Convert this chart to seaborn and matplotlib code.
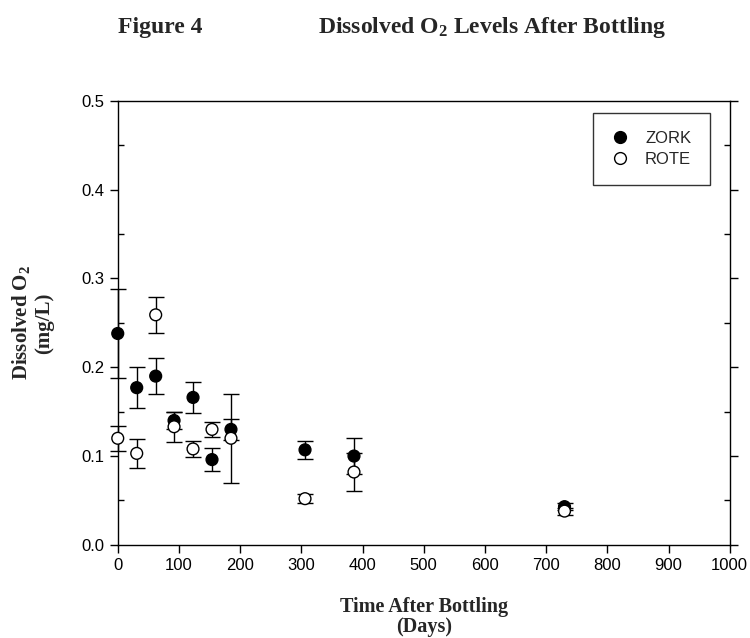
import matplotlib
matplotlib.use("Agg")
import matplotlib.pyplot as plt
from matplotlib.lines import Line2D
from matplotlib.ticker import MultipleLocator
import seaborn as sns
import pandas as pd

days = [0, 31, 62, 92, 123, 154, 185, 306, 386, 730]
zork = [0.238, 0.177, 0.190, 0.140, 0.166, 0.096, 0.130, 0.107, 0.100, 0.043]
zork_err = [0.050, 0.023, 0.020, 0.010, 0.017, 0.0125, 0.012, 0.010, 0.020, 0.004]
rote = [0.120, 0.103, 0.259, 0.133, 0.108, 0.130, 0.120, 0.052, 0.082, 0.038]
rote_err = [0.014, 0.016, 0.020, 0.017, 0.009, 0.008, 0.050, 0.005, 0.021, 0.004]
series = ["ZORK", "ROTE"]
x_ticks = [0, 100, 200, 300, 400, 500, 600, 700, 800, 900, 1000]
y_ticks = [0.0, 0.1, 0.2, 0.3, 0.4, 0.5]

sns.set_theme(style="ticks")
plt.rcParams["font.family"] = ["Liberation Sans", "DejaVu Sans"]
plt.rcParams["mathtext.fontset"] = "custom"
plt.rcParams["mathtext.rm"] = "Liberation Serif"
plt.rcParams["mathtext.default"] = "regular"

df = pd.DataFrame({
    "day": days + days,
    "o2": zork + rote,
    "err": zork_err + rote_err,
    "series": [series[0]] * len(days) + [series[1]] * len(days),
})

fig = plt.figure(figsize=(7.5, 6.38), dpi=100)
ax = fig.add_axes([0.157, 0.146, 0.816, 0.696])

for s in series:
    sub = df[df["series"] == s]
    eb = ax.errorbar(sub["day"], sub["o2"], yerr=sub["err"], fmt="none",
                     ecolor="black", elinewidth=1.0, capsize=6, capthick=1.0,
                     zorder=2)
    for art in eb.lines[1]:
        art.set_clip_on(False)
    for art in eb.lines[2]:
        art.set_clip_on(False)

sns.scatterplot(data=df, x="day", y="o2", hue="series", hue_order=series,
                palette={"ZORK": "black", "ROTE": "white"}, edgecolor="black",
                linewidth=1.0, s=72, ax=ax, legend=False, zorder=3,
                clip_on=False)

ax.set_xlim(0, 1000)
ax.set_ylim(0, 0.5)
ax.set_xticks(x_ticks)
ax.set_xticklabels([str(t) for t in x_ticks])
ax.set_yticks(y_ticks)
ax.set_yticklabels([f"{t:.1f}" for t in y_ticks])
ax.yaxis.set_minor_locator(MultipleLocator(0.05))
ax.tick_params(axis="both", which="major", direction="out", length=6, width=1,
               color="black", labelsize=12, labelcolor="black")
ax.tick_params(axis="y", which="major", right=True, labelright=False)
ax.tick_params(axis="y", which="minor", direction="in", length=4, width=1,
               left=True, right=True, color="black")
for sp in ax.spines.values():
    sp.set_visible(True)
    sp.set_color("black")
    sp.set_linewidth(1.0)

ax.set_xlabel("Time After Bottling\n(Days)", family="Liberation Serif",
              fontweight="bold", fontsize=14.5, labelpad=17, linespacing=1.0)
ax.set_ylabel("Dissolved O$_2$\n(mg/L)", family="Liberation Serif",
              fontweight="bold", fontsize=15, labelpad=20, linespacing=1.1)

handles = [
    Line2D([], [], marker="o", linestyle="none", markerfacecolor="black",
           markeredgecolor="black", markersize=8.5, label="ZORK"),
    Line2D([], [], marker="o", linestyle="none", markerfacecolor="white",
           markeredgecolor="black", markersize=8.5, label="ROTE"),
]
leg = ax.legend(handles=handles, loc="upper right", bbox_to_anchor=(0.967, 0.973),
                frameon=True, fancybox=False, edgecolor="black", fontsize=12,
                handlelength=1.0, handletextpad=1.0, borderpad=1.1,
                labelspacing=0.35, borderaxespad=0)
leg.get_frame().set_linewidth(1.0)

fig.text(0.213, 0.957, "Figure 4", family="Liberation Serif", fontweight="bold",
         fontsize=17, ha="center", va="center")
fig.text(0.656, 0.957, "Dissolved O$_2$ Levels After Bottling",
         family="Liberation Serif", fontweight="bold", fontsize=17,
         ha="center", va="center")

fig.savefig("out.png", dpi=100)
